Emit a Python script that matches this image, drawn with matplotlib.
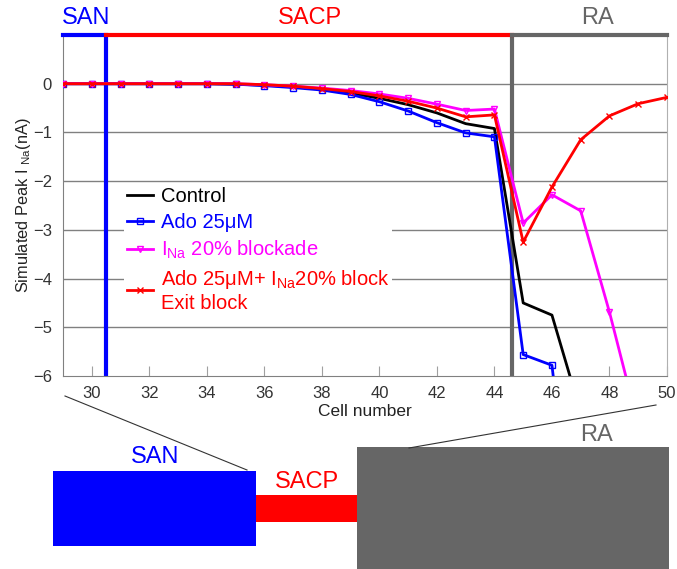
import matplotlib
matplotlib.use('Agg')
import matplotlib.pyplot as plt
import numpy as np

plt.rcParams['font.family'] = ['Liberation Sans', 'DejaVu Sans']
plt.rcParams['mathtext.fontset'] = 'custom'
plt.rcParams['mathtext.rm'] = 'Liberation Sans'
plt.rcParams['mathtext.it'] = 'Liberation Sans'

# data
cells = np.arange(29, 51)
control = [0, 0, 0, 0, 0, 0, -0.01, -0.03, -0.06, -0.11, -0.19, -0.30, -0.43,
           -0.60, -0.82, -0.92, -4.50, -4.75, -6.75, np.nan, np.nan, np.nan]
ado = [0, 0, 0, 0, 0, 0, -0.01, -0.04, -0.08, -0.13, -0.22, -0.37, -0.56,
       -0.80, -1.01, -1.09, -5.56, -5.78, -10.8, np.nan, np.nan, np.nan]
ina_block = [0, 0, 0, 0, 0, 0, 0, -0.02, -0.05, -0.09, -0.14, -0.21, -0.30,
             -0.42, -0.55, -0.52, -2.86, -2.28, -2.61, -4.69, -7.0, np.nan]
ado_ina = [0, 0, 0, 0, 0, 0, 0, -0.02, -0.05, -0.10, -0.16, -0.25, -0.36,
           -0.50, -0.68, -0.64, -3.25, -2.12, -1.15, -0.66, -0.41, -0.28]

san_end = 30.5
ra_start = 44.6

labels = ['Control', 'Ado 25μM', r'I$_{\mathrm{Na}}$ 20% blockade',
          'Ado 25μM+ I$_{\\mathrm{Na}}$20% block\nExit block']

W, H = 677, 569
fig = plt.figure(figsize=(W / 100, H / 100), dpi=100)

# main chart
ax = fig.add_axes([63 / W, 1 - 376 / H, 604 / W, 341 / H])
ax.set_xlim(29, 50)
ax.set_ylim(-6, 1)

for y in range(-5, 1):
    ax.axhline(y, color='#808080', lw=1, zorder=0)

ax.axvline(san_end, color='#0000ff', lw=3, zorder=1)
ax.axvline(ra_start, color='#666666', lw=3, zorder=1)

ax.plot(cells, control, color='black', lw=2, label=labels[0], zorder=3)
ax.plot(cells, ado, color='#0000ff', lw=2, marker='s', ms=4, mfc='none',
        mew=1, label=labels[1], zorder=3)
ax.plot(cells, ina_block, color='#ff00ff', lw=2, marker='v', ms=5, mfc='none',
        mew=1, label=labels[2], zorder=3)
ax.plot(cells, ado_ina, color='#ff0000', lw=2, marker='x', ms=4,
        mew=1, label=labels[3], zorder=4)

# coloured top border
ax.spines['top'].set_visible(False)
ax.plot([29, san_end], [1, 1], color='#0000ff', lw=3, clip_on=False, zorder=5)
ax.plot([san_end, ra_start], [1, 1], color='#ff0000', lw=3, clip_on=False, zorder=5)
ax.plot([ra_start, 50], [1, 1], color='#666666', lw=3, clip_on=False, zorder=5)
ax.text(29.8, 1.12, 'SAN', color='#0000ff', fontsize=17, ha='center', va='bottom')
ax.text(37.6, 1.12, 'SACP', color='#ff0000', fontsize=17, ha='center', va='bottom')
ax.text(47.6, 1.12, 'RA', color='#666666', fontsize=17, ha='center', va='bottom')

ax.spines['left'].set_color('#808080')
ax.spines['bottom'].set_color('#808080')
ax.spines['right'].set_color('#b0b0b0')

ax.set_xticks(range(30, 51, 2))
ax.set_yticks(range(-6, 1))
ax.tick_params(axis='x', direction='in', length=7, color='#a0a0a0', pad=7,
               labelsize=12, labelcolor='#333333')
ax.tick_params(axis='y', length=0, pad=8, labelsize=12, labelcolor='#333333')
ax.set_xlabel('Cell number', fontsize=12.5, color='#222222', labelpad=2)
ax.set_ylabel('Simulated Peak I $_{\\mathrm{Na}}$(nA)', fontsize=11.8,
              color='#222222', labelpad=0)

leg = ax.legend(loc='upper left', bbox_to_anchor=(0.085, 0.59), fontsize=14.5,
                frameon=True, facecolor='white', edgecolor='none', framealpha=1,
                labelcolor='linecolor', handlelength=1.3, handletextpad=0.4,
                labelspacing=0.33, borderpad=0.12, fancybox=False)
leg.set_zorder(6)

# schematic below the chart (pixel coordinates)
ov = fig.add_axes([0, 0, 1, 1], zorder=-1)
ov.set_xlim(0, W)
ov.set_ylim(H, 0)
ov.axis('off')
ov.add_patch(plt.Rectangle((53, 471), 203, 75, color='#0000ff', lw=0))
ov.add_patch(plt.Rectangle((256, 495), 101, 27, color='#ff0000', lw=0))
ov.add_patch(plt.Rectangle((357, 447), 312, 122, color='#666666', lw=0))
ov.plot([65, 247], [396, 470], color='#333333', lw=0.8)
ov.plot([656, 409], [405, 448], color='#333333', lw=0.8)
ov.text(155, 468, 'SAN', color='#0000ff', fontsize=17, ha='center', va='bottom')
ov.text(307, 493, 'SACP', color='#ff0000', fontsize=17, ha='center', va='bottom')
ov.text(596, 446, 'RA', color='#666666', fontsize=17, ha='center', va='bottom')

fig.savefig('out.png', dpi=100)
